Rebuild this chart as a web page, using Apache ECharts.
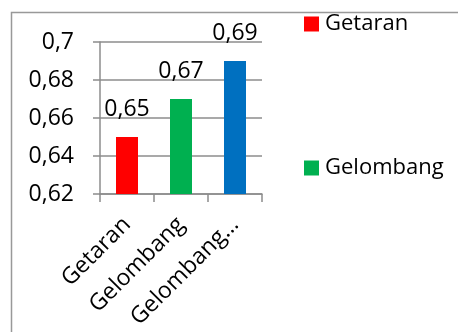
<!DOCTYPE html>
<html>
<head>
<meta charset="utf-8">
<script src="https://cdn.jsdelivr.net/npm/echarts@6/dist/echarts.min.js"></script>
<style>
    html, body {margin:0;padding:0;background:#fff;}
    #chart {width:458px;height:332px;}
</style>
</head>
<body>
<div id="chart"></div>
<script>
    var categories = ['Getaran', 'Gelombang', 'Gelombang Elektromagnetik'];
    var values = [0.65, 0.67, 0.69];
    var colors = ['#ff0000', '#00b050', '#0070c0'];
    var legendNames = ['Getaran', 'Gelombang'];
    var yTicks = [0.62, 0.64, 0.66, 0.68, 0.7];

    var font = '"Open Sans", "Liberation Sans", sans-serif';
    var grey = '#8c8c8c';

    function comma(v) {
        return String(parseFloat(v.toFixed(2))).replace('.', ',');
    }

    // one series per category, stacked so each bar sits centred in its slot
    var series = categories.map(function (name, i) {
        return {
            name: name,
            type: 'bar',
            stack: 'all',
            barWidth: 22,
            itemStyle: {color: colors[i]},
            label: {
                show: true,
                position: 'top',
                distance: 16,
                color: '#000',
                fontFamily: font,
                fontSize: 23,
                formatter: function (p) { return comma(p.value); }
            },
            data: values.map(function (v, j) { return j === i ? v : '-'; })
        };
    });

    var chart = echarts.init(document.getElementById('chart'));
    chart.setOption({
        animation: false,
        graphic: [{
            type: 'rect',
            shape: {x: 11.5, y: 12.5, width: 460, height: 340},
            style: {fill: 'none', stroke: '#999', lineWidth: 1.5},
            silent: true
        }],
        grid: {left: 100, right: 196, top: 42, bottom: 138, outerBoundsMode: 'none'},
        legend: {
            data: legendNames,
            orient: 'vertical',
            left: 299,
            top: 8,
            itemGap: 122,
            itemWidth: 15,
            itemHeight: 15,
            icon: 'rect',
            textStyle: {color: '#000', fontFamily: font, fontSize: 22, padding: [0, 0, 0, 1]}
        },
        xAxis: {
            type: 'category',
            data: categories,
            axisLine: {lineStyle: {color: grey, width: 1.5}},
            axisTick: {show: true, length: 8, lineStyle: {color: grey, width: 1.5}},
            axisLabel: {
                rotate: 45,
                margin: 27,
                interval: 0,
                color: '#000',
                fontFamily: font,
                fontSize: 23,
                width: 148,
                overflow: 'truncate',
                ellipsis: '…'
            }
        },
        yAxis: {
            type: 'value',
            min: yTicks[0],
            max: yTicks[yTicks.length - 1],
            interval: 0.02,
            axisLine: {show: true, lineStyle: {color: grey, width: 1.5}},
            axisTick: {show: true, length: 7, lineStyle: {color: grey, width: 1.5}},
            splitLine: {lineStyle: {color: grey, width: 1.5}},
            axisLabel: {
                margin: 26,
                color: '#000',
                fontFamily: font,
                fontSize: 23,
                formatter: comma
            }
        },
        series: series
    });
</script>
</body>
</html>
